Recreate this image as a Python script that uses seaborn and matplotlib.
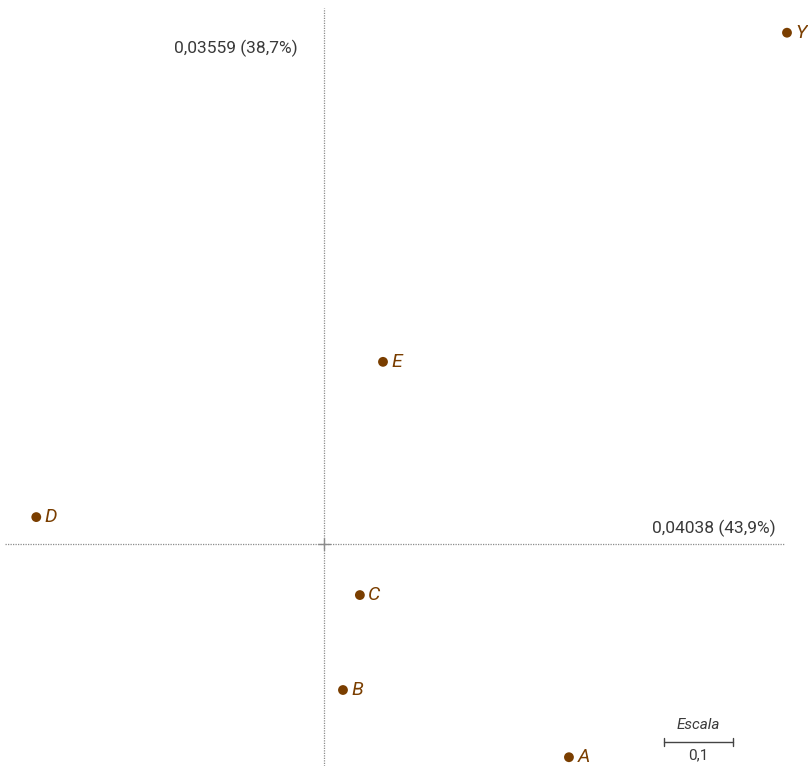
import matplotlib
matplotlib.use("Agg")
import matplotlib.pyplot as plt
import seaborn as sns
import pandas as pd

# Data (correspondence analysis coordinates)
labels = ["A", "B", "C", "D", "E", "Y"]
dim1 = [0.355, 0.0275, 0.052, -0.417, 0.0855, 0.671]
dim2 = [-0.309, -0.2116, -0.074, 0.039, 0.264, 0.741]
axis1_label = "0,04038 (43,9%)"
axis2_label = "0,03559 (38,7%)"
scale_value = 0.1
scale_title = "Escala"
scale_text = "0,1"

df = pd.DataFrame({"label": labels, "dim1": dim1, "dim2": dim2})

sns.set_theme(style="white")
plt.rcParams["font.family"] = ["Roboto", "DejaVu Sans"]

W, H = 808, 766
fig = plt.figure(figsize=(W / 100, H / 100), dpi=100)
ax = fig.add_axes([0, 0, 1, 1])

s = 690.0  # pixels per unit
ox, oy = 324, 544
ax.set_xlim(-ox / s, (W - ox) / s)
ax.set_ylim(-(H - oy) / s, oy / s)
ax.set_axis_off()

brown = "#7a3e00"
grey = "#8c8c8c"

# axes lines
ax.plot([-(ox - 5) / s, (784 - ox) / s], [0, 0], color=grey, lw=0.9, ls=(0, (1, 1)))
ax.plot([0, 0], [-(H - oy) / s, (oy - 8) / s], color=grey, lw=0.9, ls=(0, (1, 1)))
# origin cross
c = 6 / s
ax.plot([-c, c], [0, 0], color=grey, lw=1.0)
ax.plot([0, 0], [-c, c], color=grey, lw=1.0)

sns.scatterplot(data=df, x="dim1", y="dim2", ax=ax, color=brown, s=50,
                edgecolor="none", legend=False, clip_on=False)

for lab, x, y in zip(labels, dim1, dim2):
    ax.annotate(lab, (x, y), xytext=(6, 0), textcoords="offset points",
                ha="left", va="center", fontsize=14, style="italic",
                color=brown, annotation_clip=False)

txtcol = "#3a3a3a"
ax.text((776 - ox) / s, (oy - 528) / s, axis1_label, ha="right", va="center",
        fontsize=12.5, color=txtcol)
ax.text((298 - ox) / s, (oy - 48) / s, axis2_label, ha="right", va="center",
        fontsize=12.5, color=txtcol)

# scale bar
x0 = (664 - ox) / s
x1 = x0 + scale_value
yb = (oy - 741.5) / s
t = 4 / s
ax.plot([x0, x1], [yb, yb], color="#444444", lw=1.0)
ax.plot([x0, x0], [yb - t, yb + t], color="#444444", lw=1.0)
ax.plot([x1, x1], [yb - t, yb + t], color="#444444", lw=1.0)
ax.text((x0 + x1) / 2, (oy - 725) / s, scale_title, ha="center", va="center",
        fontsize=11, style="italic", color=txtcol)
ax.text((x0 + x1) / 2, (oy - 755) / s, scale_text, ha="center", va="center",
        fontsize=11, color=txtcol)

fig.savefig("out.png", dpi=100)
